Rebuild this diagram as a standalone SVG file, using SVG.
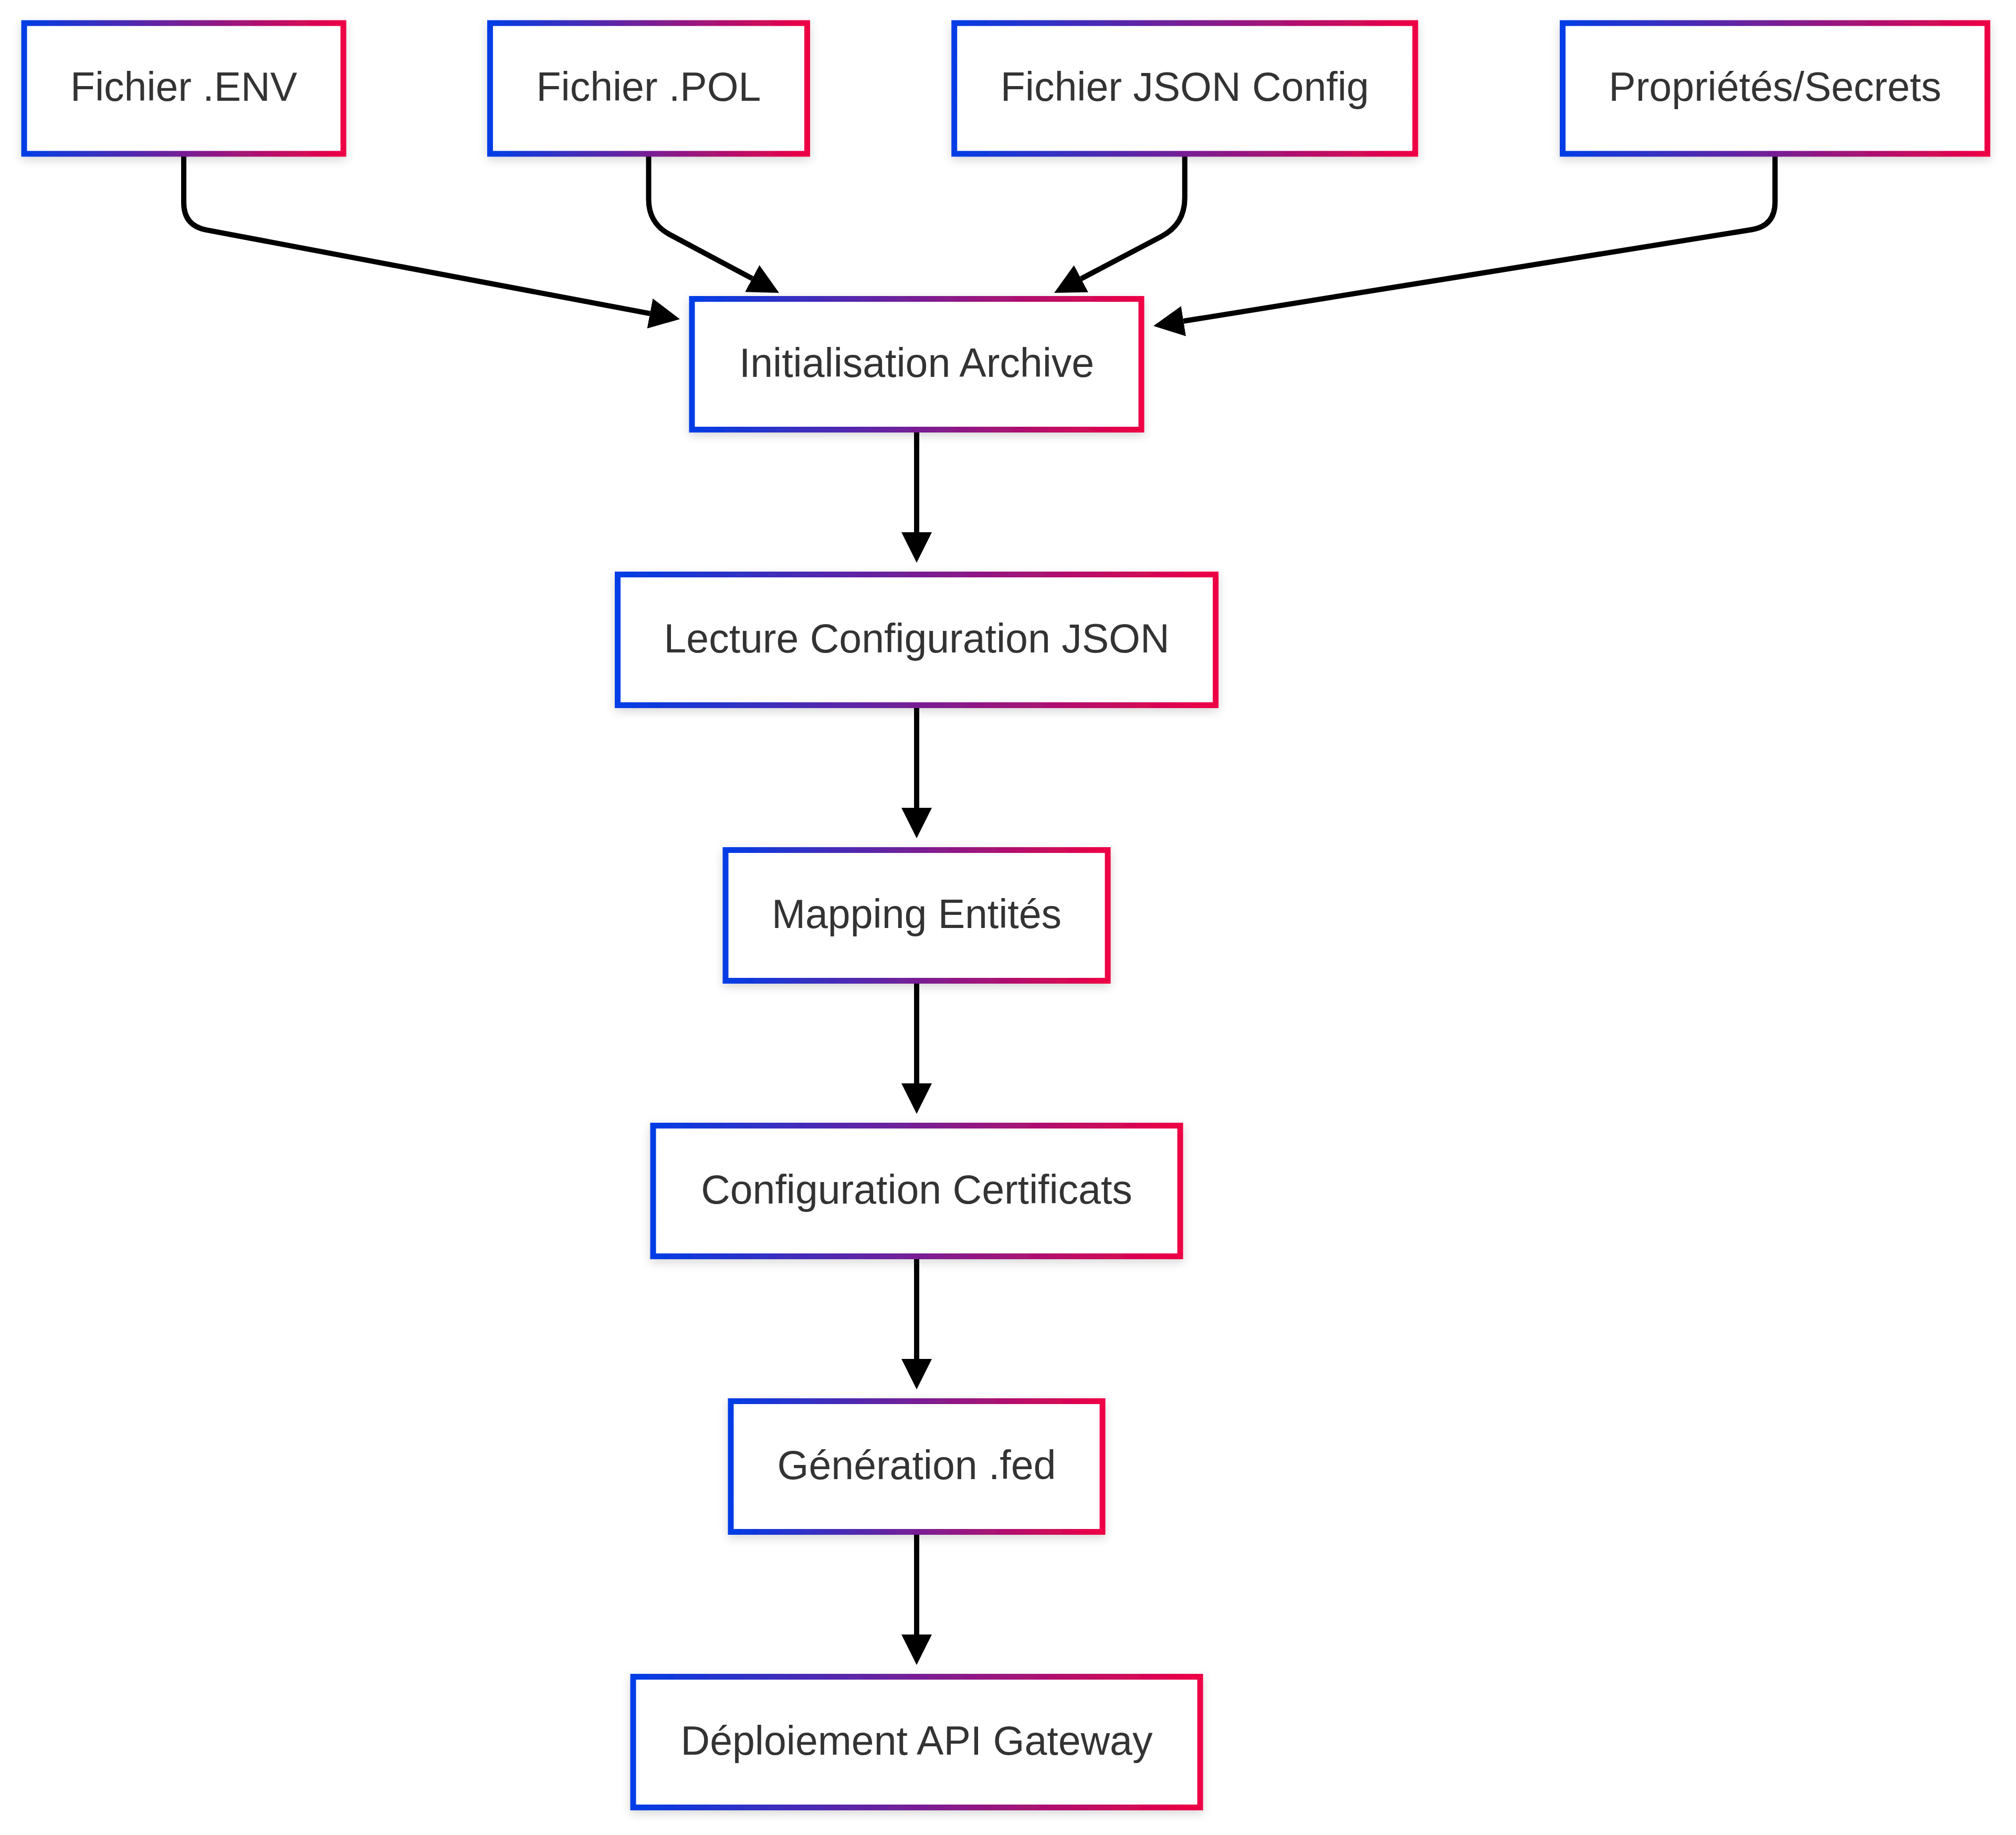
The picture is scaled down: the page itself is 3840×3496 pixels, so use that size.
<svg xmlns="http://www.w3.org/2000/svg" width="3840" height="3496" viewBox="0 0 3840 3496">
  <defs>
    <linearGradient id="edgeGrad" x1="0" y1="0" x2="1" y2="0">
      <stop offset="0" stop-color="#003de6"/>
      <stop offset="1" stop-color="#ee0044"/>
    </linearGradient>
    <filter id="boxShadow" x="-10%" y="-20%" width="120%" height="150%">
      <feDropShadow dx="0" dy="6" stdDeviation="9" flood-color="#000" flood-opacity="0.16"/>
    </filter>
    <marker id="arrow" viewBox="0 0 10 10" refX="0" refY="5" markerUnits="userSpaceOnUse" markerWidth="58" markerHeight="70" orient="auto">
      <path d="M0,0 L10,5 L0,10 z" fill="#000"/>
    </marker>
    <style>
      .box { fill: #ffffff; stroke: url(#edgeGrad); stroke-width: 11; filter: url(#boxShadow); }
      .label { font-family: "Liberation Sans", Arial, Helvetica, sans-serif; font-size: 77px; fill: #333333; text-anchor: middle; }
      .edge { fill: none; stroke: #000; stroke-width: 10; marker-end: url(#arrow); }
    </style>
  </defs>
  <rect width="3840" height="3496" fill="#ffffff"/>

  <!-- connectors -->
  <g id="connectors">
    <path class="edge" d="M350,298 L350,386 Q350,430 393.2,438.1 L1238,597.3"/>
    <path class="edge" d="M1235.5,298 L1235.5,380 Q1235.5,425.6 1276,447 L1432.8,530.7"/>
    <path class="edge" d="M2256.7,298 L2256.7,377 Q2256.7,427 2212.5,450.3 L2059.3,531"/>
    <path class="edge" d="M3381,298 L3381,385 Q3381,430.3 3336.6,437.5 L2254.3,611.8"/>
    <path class="edge" d="M1746,824 L1746,1014"/>
    <path class="edge" d="M1746,1349 L1746,1539"/>
    <path class="edge" d="M1746,1874 L1746,2064"/>
    <path class="edge" d="M1746,2399 L1746,2589"/>
    <path class="edge" d="M1746,2924 L1746,3114"/>
  </g>

  <!-- source files -->
  <g id="fichier-env">
    <rect class="box" x="46" y="44" width="608" height="249"/>
    <text class="label" x="350" y="192">Fichier .ENV</text>
  </g>
  <g id="fichier-pol">
    <rect class="box" x="933.5" y="44" width="604" height="249"/>
    <text class="label" x="1235.5" y="192">Fichier .POL</text>
  </g>
  <g id="fichier-json">
    <rect class="box" x="1817.7" y="44" width="878" height="249"/>
    <text class="label" x="2256.7" y="192">Fichier JSON Config</text>
  </g>
  <g id="proprietes-secrets">
    <rect class="box" x="2976.5" y="44" width="809" height="249"/>
    <text class="label" x="3381" y="192">Propriétés/Secrets</text>
  </g>

  <!-- processing chain -->
  <g id="init-archive">
    <rect class="box" x="1318" y="569.5" width="856" height="249"/>
    <text class="label" x="1746" y="718">Initialisation Archive</text>
  </g>
  <g id="lecture-config">
    <rect class="box" x="1176.5" y="1094.5" width="1139" height="249"/>
    <text class="label" x="1746" y="1243">Lecture Configuration JSON</text>
  </g>
  <g id="mapping-entites">
    <rect class="box" x="1382" y="1619.5" width="728" height="249"/>
    <text class="label" x="1746" y="1768">Mapping Entités</text>
  </g>
  <g id="config-certificats">
    <rect class="box" x="1244" y="2144.5" width="1004" height="249"/>
    <text class="label" x="1746" y="2293">Configuration Certificats</text>
  </g>
  <g id="generation-fed">
    <rect class="box" x="1392" y="2669.5" width="708" height="249"/>
    <text class="label" x="1746" y="2818">Génération .fed</text>
  </g>
  <g id="deploiement-gateway">
    <rect class="box" x="1206" y="3194.5" width="1080" height="249"/>
    <text class="label" x="1746" y="3343">Déploiement API Gateway</text>
  </g>
</svg>
